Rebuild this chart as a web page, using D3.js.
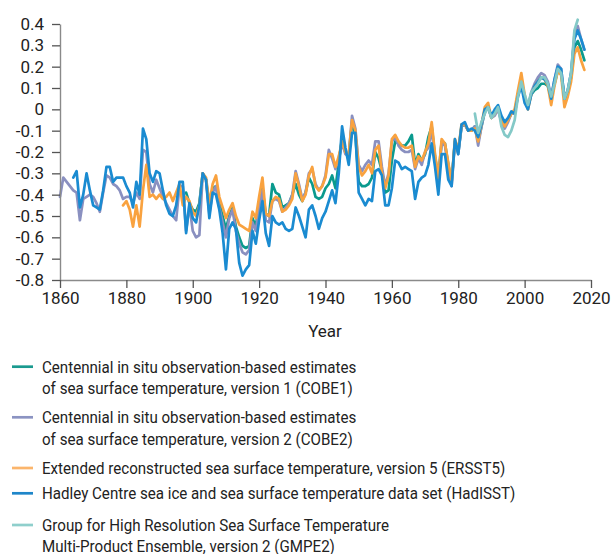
<!DOCTYPE html>
<html><head><meta charset="utf-8">
<script src="https://cdn.jsdelivr.net/npm/d3@7/dist/d3.min.js"></script>
<style>
body{margin:0;background:#fff}
text{font-family:Roboto,"Noto Sans",sans-serif;fill:#222}
</style>
</head><body>
<svg id="chart" width="613" height="554"></svg>
<script>
// ---- data (annual sea surface temperature anomalies, °C) ----
const xTicks = [1860, 1880, 1900, 1920, 1940, 1960, 1980, 2000, 2020];
const yTicks = [0.4, 0.3, 0.2, 0.1, 0, -0.1, -0.2, -0.3, -0.4, -0.5, -0.6, -0.7, -0.8];
const yTickLabels = ["0.4","0.3","0.2","0.1","0","-0.1","-0.2","-0.3","-0.4","-0.5","-0.6","-0.7","-0.8"];
const xLabel = "Year";

const cobe1Start = 1898;
const cobe1 = [-0.39,-0.44,-0.47,-0.48,-0.44,-0.30,-0.33,-0.46,-0.37,-0.36,
  -0.44,-0.50,-0.56,-0.50,-0.46,-0.55,-0.60,-0.64,-0.65,-0.64,
  -0.51,-0.55,-0.44,-0.37,-0.49,-0.50,-0.35,-0.39,-0.40,-0.46,
  -0.45,-0.44,-0.40,-0.35,-0.40,-0.43,-0.39,-0.32,-0.35,-0.41,
  -0.42,-0.41,-0.37,-0.35,-0.31,-0.37,-0.25,-0.13,-0.20,-0.22,
  -0.06,-0.12,-0.34,-0.36,-0.36,-0.35,-0.32,-0.20,-0.23,-0.29,
  -0.39,-0.38,-0.24,-0.15,-0.16,-0.17,-0.17,-0.15,-0.12,-0.26,
  -0.21,-0.24,-0.21,-0.13,-0.08,-0.22,-0.32,-0.15,-0.16,-0.26,
  -0.34,-0.15,-0.20,-0.08,-0.07,-0.10,-0.10,-0.08,-0.15,-0.08,
  -0.01,0.01,-0.04,-0.02,0.00,-0.05,-0.08,-0.05,-0.02,-0.01,
  0.07,0.13,0.05,0.01,0.07,0.09,0.10,0.12,0.12,0.11,
  0.05,0.12,0.18,0.17,0.05,0.08,0.15,0.29,0.32,0.28,0.23];

const cobe2Start = 1860;
const cobe2 = [-0.41,-0.32,-0.34,-0.36,-0.38,-0.39,-0.52,-0.42,-0.41,-0.40,
  -0.41,-0.44,-0.48,-0.39,-0.31,-0.32,-0.35,-0.36,-0.38,-0.42,
  -0.41,-0.41,-0.44,-0.39,-0.42,-0.19,-0.20,-0.35,-0.39,-0.33,
  -0.37,-0.41,-0.44,-0.47,-0.50,-0.52,-0.36,-0.36,-0.57,-0.45,
  -0.57,-0.60,-0.59,-0.30,-0.33,-0.49,-0.39,-0.36,-0.46,-0.53,
  -0.60,-0.51,-0.47,-0.57,-0.63,-0.67,-0.68,-0.66,-0.53,-0.57,
  -0.46,-0.38,-0.52,-0.53,-0.43,-0.42,-0.43,-0.48,-0.46,-0.44,
  -0.40,-0.29,-0.35,-0.42,-0.39,-0.30,-0.28,-0.35,-0.38,-0.36,
  -0.31,-0.19,-0.23,-0.28,-0.23,-0.16,-0.21,-0.22,-0.03,-0.09,
  -0.26,-0.29,-0.26,-0.24,-0.26,-0.15,-0.15,-0.27,-0.36,-0.30,
  -0.15,-0.13,-0.17,-0.19,-0.20,-0.20,-0.19,-0.28,-0.23,-0.26,
  -0.20,-0.18,-0.09,-0.24,-0.34,-0.16,-0.17,-0.28,-0.36,-0.15,
  -0.21,-0.08,-0.07,-0.10,-0.10,-0.08,-0.17,-0.08,-0.01,0.01,
  -0.04,-0.03,0.00,-0.06,-0.09,-0.06,-0.02,-0.02,0.07,0.14,
  0.06,0.01,0.08,0.12,0.15,0.17,0.16,0.13,0.06,0.14,
  0.21,0.19,0.05,0.09,0.17,0.35,0.39,0.33,0.28];

const ersst5Start = 1879;
const ersst5 = [-0.45,
  -0.43,-0.47,-0.55,-0.45,-0.55,-0.38,-0.26,-0.41,-0.40,-0.42,
  -0.40,-0.42,-0.41,-0.39,-0.43,-0.39,-0.35,-0.45,-0.41,-0.43,
  -0.48,-0.50,-0.45,-0.30,-0.32,-0.44,-0.35,-0.31,-0.41,-0.46,
  -0.51,-0.47,-0.44,-0.50,-0.54,-0.55,-0.56,-0.57,-0.48,-0.51,
  -0.41,-0.32,-0.49,-0.50,-0.43,-0.41,-0.42,-0.48,-0.47,-0.45,
  -0.42,-0.30,-0.36,-0.43,-0.40,-0.31,-0.27,-0.36,-0.38,-0.36,
  -0.32,-0.21,-0.21,-0.27,-0.22,-0.15,-0.20,-0.21,-0.05,-0.10,
  -0.27,-0.31,-0.29,-0.26,-0.30,-0.19,-0.17,-0.30,-0.37,-0.31,
  -0.14,-0.12,-0.15,-0.17,-0.18,-0.18,-0.17,-0.27,-0.22,-0.24,
  -0.20,-0.16,-0.06,-0.21,-0.32,-0.14,-0.16,-0.25,-0.34,-0.14,
  -0.19,-0.07,-0.07,-0.10,-0.10,-0.09,-0.15,-0.07,0.01,0.03,
  -0.04,-0.02,0.01,-0.05,-0.08,-0.05,-0.02,0.00,0.09,0.17,
  0.07,0.00,0.07,0.11,0.13,0.15,0.14,0.11,0.02,0.11,
  0.18,0.16,0.01,0.06,0.13,0.26,0.29,0.23,0.185];

const hadisstStart = 1864;
const hadisst = [-0.32,-0.29,-0.46,-0.40,-0.30,-0.38,
  -0.45,-0.46,-0.47,-0.38,-0.27,-0.27,-0.34,-0.32,-0.32,-0.32,
  -0.36,-0.39,-0.46,-0.34,-0.40,-0.09,-0.14,-0.30,-0.34,-0.29,
  -0.30,-0.38,-0.45,-0.49,-0.50,-0.45,-0.34,-0.34,-0.58,-0.44,
  -0.51,-0.53,-0.45,-0.30,-0.33,-0.51,-0.39,-0.40,-0.47,-0.58,
  -0.75,-0.56,-0.53,-0.56,-0.72,-0.78,-0.75,-0.73,-0.57,-0.63,
  -0.52,-0.43,-0.58,-0.64,-0.50,-0.53,-0.54,-0.53,-0.56,-0.57,
  -0.56,-0.46,-0.50,-0.55,-0.60,-0.47,-0.45,-0.50,-0.56,-0.51,
  -0.48,-0.43,-0.38,-0.44,-0.30,-0.08,-0.18,-0.26,-0.11,-0.11,
  -0.39,-0.42,-0.45,-0.42,-0.43,-0.29,-0.28,-0.31,-0.45,-0.45,
  -0.37,-0.24,-0.25,-0.28,-0.27,-0.28,-0.29,-0.42,-0.34,-0.32,
  -0.31,-0.26,-0.16,-0.27,-0.40,-0.21,-0.21,-0.33,-0.36,-0.14,
  -0.21,-0.07,-0.06,-0.10,-0.09,-0.10,-0.13,-0.07,0.00,0.01,
  -0.03,0.00,0.02,-0.03,-0.06,-0.04,-0.01,-0.02,0.06,0.11,
  0.03,0.00,0.07,0.11,0.13,0.15,0.14,0.12,0.05,0.14,
  0.20,0.19,0.05,0.09,0.17,0.33,0.37,0.33,0.28];

const gmpe2Start = 1985;
const gmpe2 = [-0.02,-0.11,-0.06,-0.02,0.01,
  -0.04,-0.02,0.01,-0.08,-0.12,-0.13,-0.10,-0.05,0.06,0.13,
  0.07,0.02,0.08,0.10,0.12,0.15,0.15,0.12,0.06,0.12,
  0.19,0.17,0.05,0.09,0.17,0.37,0.42];

const seriesNames = ["COBE1","COBE2","ERSST5","HadISST","GMPE2"];
const seriesColors = ["#0a9a8e","#8a90c0","#f9a23f","#1a8bd1","#84c9c7"];
const legendColors = ["#1a9a8f","#8b93c2","#fbb56c","#1e86c9","#8fcfcc"];
const legendLabels = [
  ["Centennial in situ observation-based estimates","of sea surface temperature, version 1 (COBE1)"],
  ["Centennial in situ observation-based estimates","of sea surface temperature, version 2 (COBE2)"],
  ["Extended reconstructed sea surface temperature, version 5 (ERSST5)"],
  ["Hadley Centre sea ice and sea surface temperature data set (HadISST)"],
  ["Group for High Resolution Sea Surface Temperature","Multi-Product Ensemble, version 2 (GMPE2)"]
];

// ---- build ----
const seriesTable = [
  {start: cobe1Start, values: cobe1},
  {start: cobe2Start, values: cobe2},
  {start: ersst5Start, values: ersst5},
  {start: hadisstStart, values: hadisst},
  {start: gmpe2Start, values: gmpe2}
].map((s, i) => ({
  name: seriesNames[i], color: seriesColors[i],
  points: s.values.map((v, k) => ({year: s.start + k, value: v}))
}));

const svg = d3.select("#chart");
const x = d3.scaleLinear().domain([1860, 2020]).range([60, 591]);
const y = d3.scaleLinear().domain([-0.8, 0.4]).range([280, 24]);

const line = d3.line().x(d => x(d.year)).y(d => y(d.value));

svg.append("g").selectAll("path").data(seriesTable).join("path")
  .attr("d", d => line(d.points))
  .attr("fill", "none")
  .attr("stroke", d => d.color)
  .attr("stroke-width", 2.7)
  .attr("stroke-linejoin", "round")
  .attr("stroke-linecap", "round");

const yAxis = svg.append("g").attr("transform", "translate(60,0)")
  .call(d3.axisLeft(y).tickValues(yTicks).tickSize(8).tickPadding(8).tickSizeOuter(0)
    .tickFormat((d, i) => yTickLabels[i]));
const xAxis = svg.append("g").attr("transform", "translate(0,280)")
  .call(d3.axisBottom(x).tickValues(xTicks).tickSize(8).tickPadding(4).tickSizeOuter(0)
    .tickFormat(d3.format("d")));
[yAxis, xAxis].forEach(g => {
  g.selectAll(".domain").attr("stroke", "#8a8a8a").attr("stroke-width", 1.4);
  g.selectAll(".tick line").attr("stroke", "#555").attr("stroke-width", 1.3);
  g.selectAll(".tick text").attr("font-size", 17).attr("fill", "#222")
    .style("font-family", "Roboto, sans-serif");
});

svg.append("text").attr("x", 325).attr("y", 337).attr("text-anchor", "middle")
  .attr("font-size", 17).text(xLabel);

// legend
const legendRowY = [366.7, 417.3, 468, 493.3, 525];
const lg = svg.append("g");
legendLabels.forEach((lines, i) => {
  const yy = legendRowY[i];
  lg.append("line").attr("x1", 12).attr("x2", 33).attr("y1", yy).attr("y2", yy)
    .attr("stroke", legendColors[i]).attr("stroke-width", 2.7);
  lines.forEach((t, j) => {
    lg.append("text")
      .attr("transform", `translate(42,${yy + 6 + j * 21.4}) scale(0.89,1)`)
      .attr("font-size", 17).text(t);
  });
});
</script>
</body></html>
